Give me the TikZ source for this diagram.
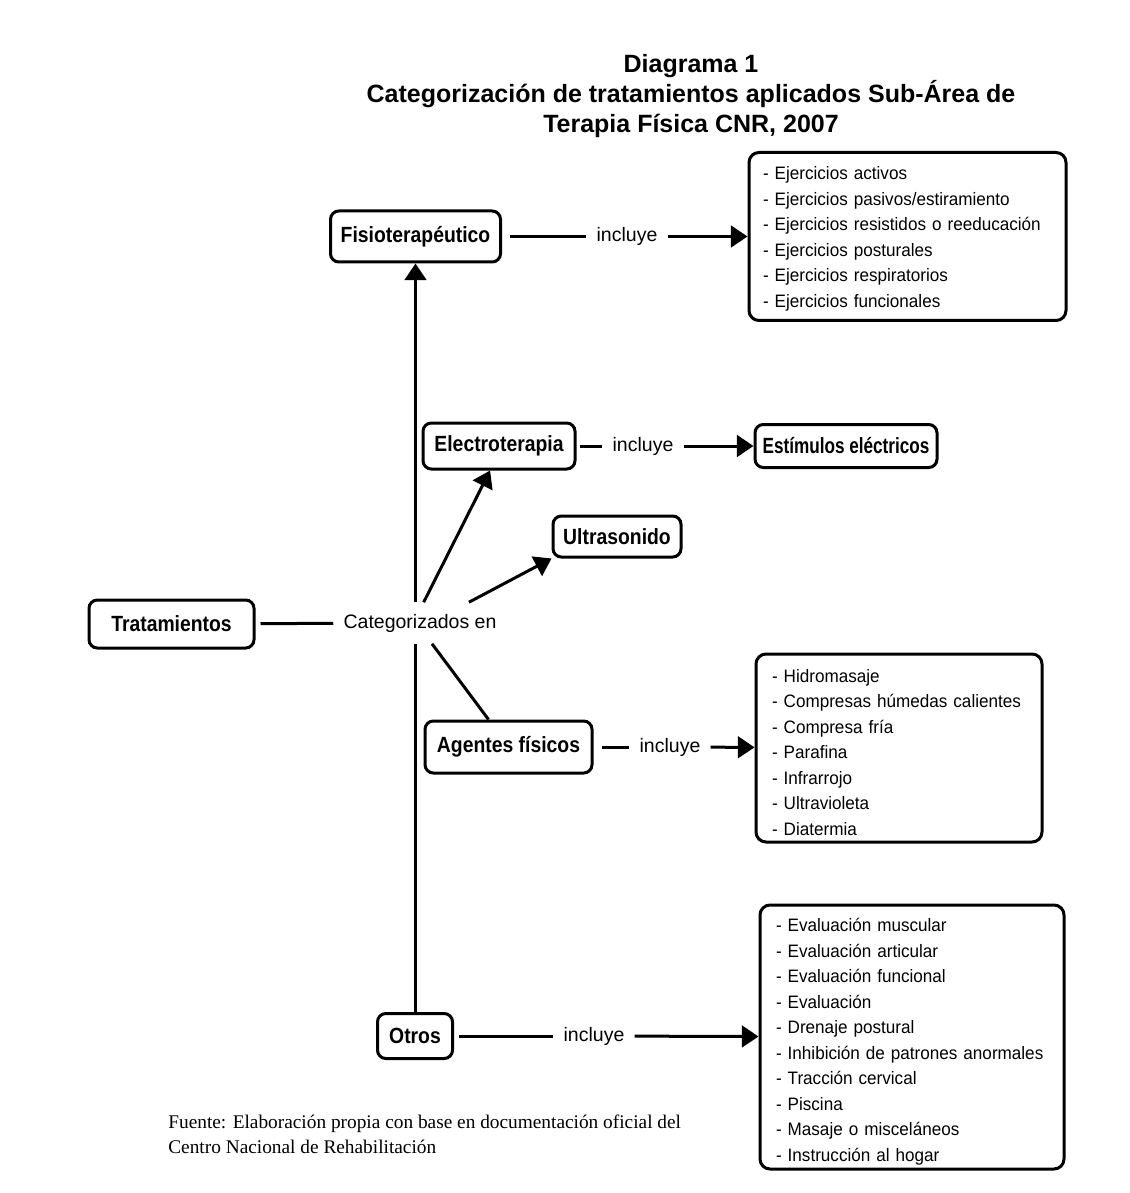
\documentclass[tikz,border=0pt]{standalone}
\usepackage{fontspec}
\setmainfont{Liberation Sans}
\newfontfamily\boxfont[FakeStretch=0.88]{Liberation Sans Bold}
\newfontfamily\narrowboxfont[FakeStretch=0.78]{Liberation Sans Bold}
\newfontfamily\listfont[FakeStretch=0.95]{Liberation Sans}
\newfontfamily\titlefont{Liberation Sans Bold}
\newfontfamily\notefont{Liberation Serif}
\usetikzlibrary{arrows.meta}

% pushes a list a little down in its box
\newcommand{\topgap}[1]{\rule{0pt}{#1}}

\tikzset{
  catbox/.style={draw, line width=1.8pt, rounded corners=5pt, inner sep=0pt,
    font=\boxfont\fontsize{13.2}{15}\selectfont},
  listbox/.style={draw, line width=1.8pt, rounded corners=6pt, inner xsep=8.4pt,
    inner ysep=0pt, align=left, font=\listfont\fontsize{10.8}{15.3}\selectfont},
  linklabel/.style={inner xsep=6pt, inner ysep=3pt, font=\fontsize{11.7}{14}\selectfont},
  link/.style={line width=1.8pt},
  linkarrow/.style={line width=1.8pt, -{Triangle[length=10pt,width=13pt]}}
}

\begin{document}
\begin{tikzpicture}[x=0.6pt,y=-0.6pt]
  \useasboundingbox (0,0) rectangle (1130,1193);

  % title
  \node[align=center, font=\titlefont\fontsize{15}{18}\selectfont] (title) at (691,96)
    {Diagrama 1\\Categorización de tratamientos aplicados Sub-Área de\\Terapia Física CNR, 2007};

  % categories
  \node[catbox, minimum width=99pt, minimum height=28.8pt] (Trat) at (171.5,624) {Tratamientos};
  \node[font=\fontsize{11.7}{14}\selectfont, inner xsep=6pt, inner ysep=6.8pt] (cat) at (420,623) {Categorizados en};
  \node[catbox, minimum width=102pt, minimum height=30.6pt] (Fisio) at (415.5,236.5) {Fisioterapéutico};
  \node[catbox, minimum width=91.2pt, minimum height=27.6pt] (Electro) at (499,446) {Electroterapia};
  \node[catbox, minimum width=76.8pt, minimum height=24.6pt] (Ultra) at (617,536.5) {Ultrasonido};
  \node[catbox, minimum width=100.2pt, minimum height=31.2pt] (Agentes) at (508.5,747) {Agentes físicos};
  \node[catbox, minimum width=45pt, minimum height=27pt] (Otros) at (415,1036) {Otros};

  % what each one includes
  \node[listbox, text width=173.4pt, minimum height=100.8pt] (list1) at (907.5,236.5)
    {\topgap{10.5pt}- Ejercicios activos\\- Ejercicios pasivos/estiramiento\\- Ejercicios resistidos o reeducación\\%
     - Ejercicios posturales\\- Ejercicios respiratorios\\- Ejercicios funcionales};
  \node[catbox, font=\narrowboxfont\fontsize{13.2}{15}\selectfont, minimum width=109.2pt,
    minimum height=25.8pt] (Estim) at (846,446) {Estímulos eléctricos};
  \node[listbox, inner xsep=9.6pt, text width=152.4pt, minimum height=112.8pt] (list2) at (899,748)
    {\topgap{12.8pt}- Hidromasaje\\- Compresas húmedas calientes\\- Compresa fría\\- Parafina\\%
     - Infrarrojo\\- Ultravioleta\\- Diatermia};
  \node[listbox, inner xsep=9.6pt, text width=163.2pt, minimum height=158.4pt] (list3) at (912,1037)
    {\topgap{13.8pt}- Evaluación muscular\\- Evaluación articular\\- Evaluación funcional\\- Evaluación\\%
     - Drenaje postural\\- Inhibición de patrones anormales\\- Tracción cervical\\- Piscina\\%
     - Masaje o misceláneos\\- Instrucción al hogar};

  \node[linklabel] (inc1) at (627,236.5) {incluye};
  \node[linklabel] (inc2) at (643,446) {incluye};
  \node[linklabel] (inc3) at (670,747) {incluye};
  \node[linklabel] (inc4) at (594,1036) {incluye};

  % connectors
  \draw[link, shorten <=3pt] (Trat) -- (cat);
  \draw[link] (Otros.north) -- (Otros.north |- cat.south);
  \draw[linkarrow] (Fisio.south |- cat.north) -- (Fisio.south);
  \draw[linkarrow] (cat.80) -- (Electro.250);
  \draw[linkarrow] (cat.23) -- (Ultra.south west);
  \draw[link] (cat.-60) -- (Agentes.126);

  \draw[link, shorten <=5pt] (Fisio) -- (inc1);
  \draw[linkarrow] (inc1) -- (list1);
  \draw[link, shorten <=2pt] (Electro) -- (inc2);
  \draw[linkarrow] (inc2) -- (Estim);
  \draw[link, shorten <=5pt] (Agentes) -- (inc3);
  \draw[linkarrow] (inc3) -- (list2);
  \draw[link, shorten <=3pt] (Otros) -- (inc4);
  \draw[linkarrow] (inc4) -- (list3);

  % source
  \node[anchor=north west, inner sep=0pt, align=left, font=\notefont\fontsize{11.6}{15}\selectfont]
    (fuente) at (168,1115)
    {Fuente: Elaboración propia con base en documentación oficial del\\Centro Nacional de Rehabilitación};
\end{tikzpicture}
\end{document}
